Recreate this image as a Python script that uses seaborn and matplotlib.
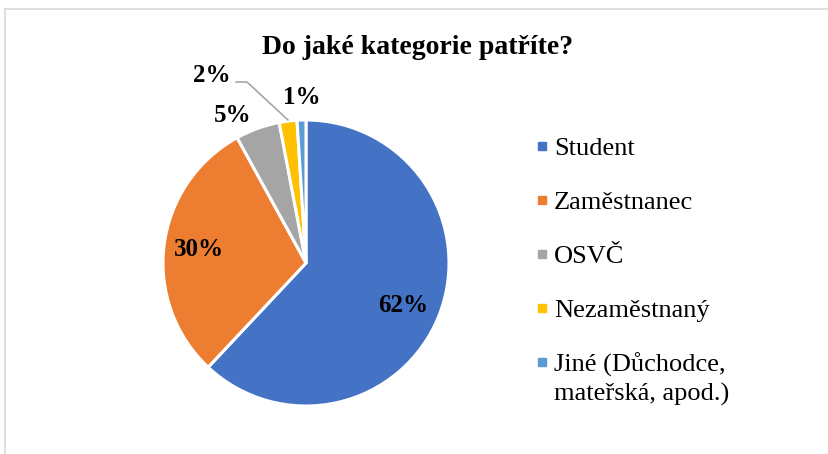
import matplotlib
matplotlib.use("Agg")
import matplotlib.pyplot as plt
import seaborn as sns
from matplotlib.lines import Line2D

categories = ["Student", "Zaměstnanec", "OSVČ", "Nezaměstnaný", "Jiné (Důchodce,\nmateřská, apod.)"]
values = [62, 30, 5, 2, 1]
labels = ["62%", "30%", "5%", "2%", "1%"]
colors = ["#4472C4", "#ED7D31", "#A5A5A5", "#FFC000", "#5B9BD5"]

sns.set_theme(style="white")
plt.rcParams["font.family"] = ["Liberation Serif", "DejaVu Serif"]

W, H = 829, 454
fig = plt.figure(figsize=(W / 100, H / 100), dpi=100)
fig.patch.set_facecolor("white")

cx, cy, r = 306, 263, 143
ax = fig.add_axes([(cx - r) / W, (H - cy - r) / H, 2 * r / W, 2 * r / H])
wedges, _ = ax.pie(values, colors=colors, startangle=90, counterclock=False,
                   radius=1.0, wedgeprops=dict(edgecolor="white", linewidth=2.2))
ax.set_xlim(-1, 1)
ax.set_ylim(-1, 1)
ax.set_aspect("equal")
ax.axis("off")

def d(px, py):
    return (px - cx) / r, (cy - py) / r

label_pos = [(403, 306), (199, 250), (233, 115), (212, 76), (302, 97)]
for lab, (px, py) in zip(labels, label_pos):
    x, y = d(px, py)
    ax.text(x, y, lab, ha="center", va="center", fontsize=18, fontweight="bold",
            color="#000000", clip_on=False)

# leader line for 2%
pts = [d(236, 82), d(247, 82), d(288, 120)]
ax.add_line(Line2D([p[0] for p in pts], [p[1] for p in pts], color="#A5A5A5",
                   linewidth=1.2, clip_on=False))

fig.text(418 / W, 1 - 48 / H, "Do jaké kategorie patříte?", ha="center", va="center",
         fontsize=20, fontweight="bold", color="#000000")

# legend: first line of each label in legend, continuation lines added below
first_lines = [c.split("\n")[0] for c in categories]
handles = [Line2D([0], [0], marker="s", linestyle="none", markersize=6,
                  markerfacecolor=c, markeredgecolor=c) for c in colors]
leg = fig.legend(handles, first_lines, loc="upper left",
                 bbox_to_anchor=(533 / W, 1 - 137 / H), frameon=False,
                 fontsize=19, labelspacing=1.15, handletextpad=0.1,
                 handlelength=0.7, borderaxespad=0, borderpad=0)
for t in leg.get_texts():
    t.set_color("#000000")

fig.canvas.draw()
renderer = fig.canvas.get_renderer()
for cat, t in zip(categories, leg.get_texts()):
    extra = cat.split("\n")[1:]
    if extra:
        bb = t.get_window_extent(renderer)
        for i, line in enumerate(extra):
            fig.text(bb.x0 / W, (bb.y0 + bb.y1) / 2 / H - 30 * (i + 1) / H, line,
                     ha="left", va="center", fontsize=19, color="#000000")

# figure border (top and left visible)
fig.add_artist(Line2D([5 / W, 1], [1 - 9 / H, 1 - 9 / H], color="#D9D9D9", linewidth=1.2,
                      transform=fig.transFigure))
fig.add_artist(Line2D([5 / W, 5 / W], [0, 1 - 9 / H], color="#D9D9D9", linewidth=1.2,
                      transform=fig.transFigure))

fig.savefig("out.png", dpi=100, facecolor="white")
